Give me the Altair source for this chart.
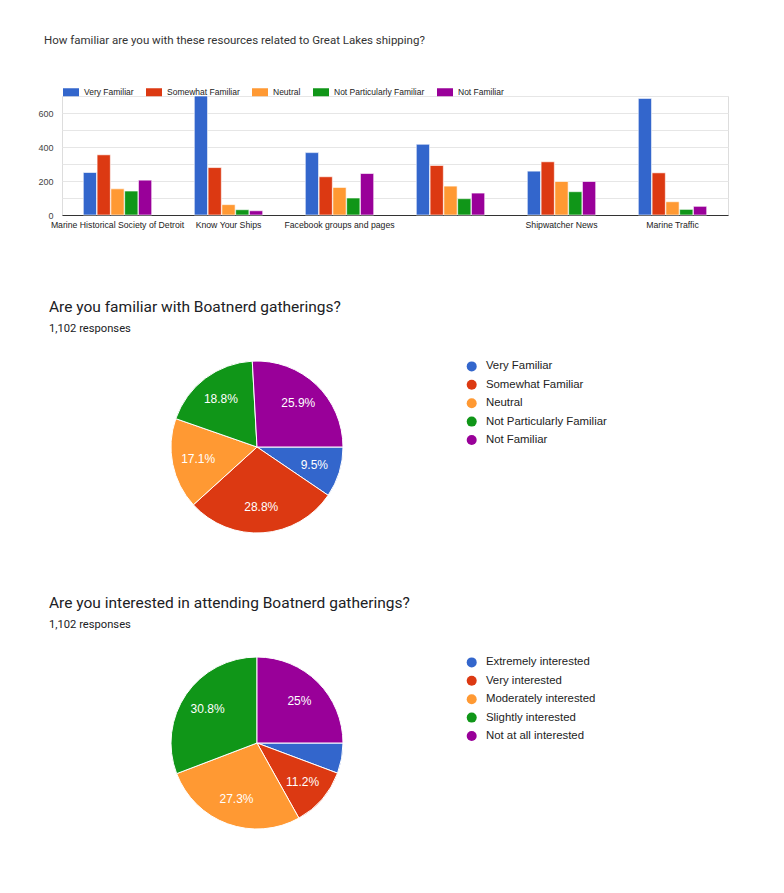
import math
import altair as alt
import pandas as pd

# ---------------- data ----------------
resources = ["Marine Historical Society of Detroit", "Know Your Ships",
             "Facebook groups and pages", "Boatnerd.com",
             "Shipwatcher News", "Marine Traffic"]
levels = ["Very Familiar", "Somewhat Familiar", "Neutral",
          "Not Particularly Familiar", "Not Familiar"]
very_familiar = [250, 700, 367, 416, 258, 686]
somewhat_familiar = [354, 279, 225, 291, 313, 248]
neutral = [154, 61, 162, 170, 197, 78]
not_particularly = [141, 31, 100, 96, 137, 33]
not_familiar = [205, 25, 244, 129, 197, 51]

gather_levels = ["Very Familiar", "Somewhat Familiar", "Neutral",
                 "Not Particularly Familiar", "Not Familiar"]
gather_pct = [9.5, 28.8, 17.1, 18.8, 25.9]

interest_levels = ["Extremely interested", "Very interested",
                   "Moderately interested", "Slightly interested",
                   "Not at all interested"]
interest_pct = [5.7, 11.2, 27.3, 30.8, 25.0]

palette = ["#3366cc", "#dc3912", "#ff9933", "#109618", "#990099"]

# ---------------- bar chart ----------------
series = [very_familiar, somewhat_familiar, neutral, not_particularly, not_familiar]
rows = []
for lvl, vals in zip(levels, series):
    for res, v in zip(resources, vals):
        rows.append({"resource": res, "level": lvl, "count": v})
bar_df = pd.DataFrame(rows)

bar = alt.Chart(bar_df).mark_bar(stroke="white", strokeWidth=0.6).encode(
    x=alt.X("resource:N", sort=resources,
            scale=alt.Scale(paddingInner=0.384, paddingOuter=0.192),
            axis=alt.Axis(title=None, labelAngle=0, ticks=False, domain=True,
                          domainColor="#333333", labelFontSize=8.7,
                          labelColor="#222222", labelPadding=5,
                          labelFont="Liberation Sans", labelLimit=200,
                          labelExpr="datum.label == 'Boatnerd.com' ? '' : datum.label")),
    xOffset=alt.XOffset("level:N", sort=levels, scale=alt.Scale(paddingInner=0.04)),
    y=alt.Y("count:Q", scale=alt.Scale(domain=[0, 700], nice=False),
            axis=alt.Axis(title=None, values=[0, 100, 200, 300, 400, 500, 600, 700],
                          labelExpr="(datum.value % 200 == 0 && datum.value < 700) ? datum.label : ''",
                          domain=False, ticks=False, gridColor="#e6e6e6",
                          labelFontSize=9, labelColor="#444444", labelPadding=9,
                          labelFont="Liberation Sans")),
    color=alt.Color("level:N", sort=levels,
                    scale=alt.Scale(domain=levels, range=palette),
                    legend=alt.Legend(title=None, orient="none", direction="horizontal",
                                      legendX=1, legendY=-12,
                                      symbolType="M-1,-0.5L1,-0.5L1,0.5L-1,0.5Z",
                                      symbolSize=256, symbolStrokeWidth=0,
                                      labelFontSize=8.5, labelColor="#222222",
                                      labelFont="Liberation Sans",
                                      labelOffset=5, columnPadding=12, padding=0)),
).properties(
    width=666, height=119,
    title=alt.TitleParams("How familiar are you with these resources related to Great Lakes shipping?",
                          anchor="start", frame="group", dx=-18, offset=38,
                          fontSize=11.5, font="Roboto", fontWeight="normal",
                          color="#333333"),
)


def make_pie(cats, pct, title):
    df = pd.DataFrame({"cat": cats, "pct": pct, "ord": list(range(len(cats)))})
    base = alt.Chart(df).encode(
        theta=alt.Theta("pct:Q", stack=True,
                        scale=alt.Scale(range=[math.pi / 2, math.pi / 2 + 2 * math.pi])),
        order=alt.Order("ord:Q"),
        color=alt.Color("cat:N", sort=cats,
                        scale=alt.Scale(domain=cats, range=palette),
                        legend=alt.Legend(title=None, orient="none",
                                          legendX=404, legendY=5.7,
                                          symbolType="circle", symbolSize=100,
                                          symbolStrokeWidth=0,
                                          labelFontSize=11.4, labelColor="#222222",
                                          labelFont="Liberation Sans",
                                          labelOffset=8.5, rowPadding=5.4,
                                          padding=0)),
    )
    arcs = base.mark_arc(outerRadius=86, stroke="white", strokeWidth=1)
    labels = base.transform_calculate(
        lab="datum.pct < 6 ? '' : format(datum.pct, '.1~f') + '%'"
    ).mark_text(radius=60, fill="white", fontSize=12,
                font="Liberation Sans").encode(text="lab:N")
    return (arcs + labels).properties(
        width=390, height=184,
        title=alt.TitleParams(title, subtitle="1,102 responses",
                              anchor="start", frame="group", dx=-13, offset=21.3,
                              fontSize=15.5, font="Roboto", fontWeight="normal",
                              color="#202124", subtitleFontSize=11.2,
                              subtitleFont="Roboto", subtitleColor="#202124",
                              subtitlePadding=7),
    )


pie1 = make_pie(gather_levels, gather_pct, "Are you familiar with Boatnerd gatherings?")
pie2 = make_pie(interest_levels, interest_pct, "Are you interested in attending Boatnerd gatherings?")

pies = alt.vconcat(pie1, pie2, spacing=57).resolve_scale(color="independent").resolve_legend(color="independent")

chart = alt.vconcat(bar, pies, spacing=70).resolve_scale(
    color="independent", theta="independent"
).resolve_legend(color="independent").properties(
    padding={"left": 29, "top": 26, "right": 5, "bottom": 5}
).configure_view(stroke=None).configure(background="white")

chart.save("out.html", embed_options={"renderer": "svg", "actions": False})
